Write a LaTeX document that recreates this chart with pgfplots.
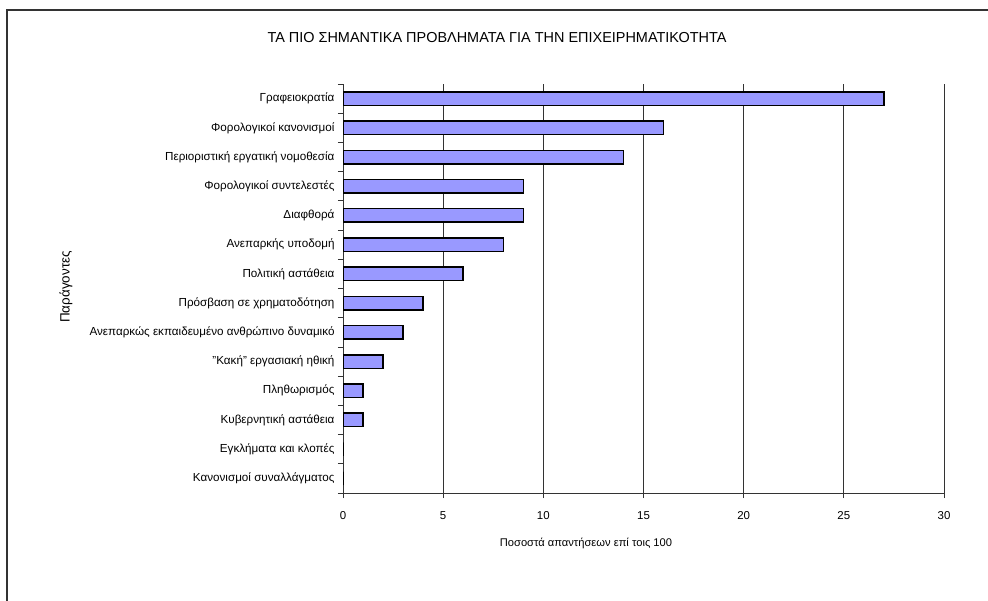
\documentclass[border=0pt]{standalone}
\usepackage{pgfplots}
\pgfplotsset{compat=1.18}
\usepackage{fontspec}
\setmainfont{Liberation Sans}
\definecolor{barfill}{HTML}{9999FF}
\definecolor{frame}{HTML}{333333}

\begin{document}
\begin{tikzpicture}
\useasboundingbox (0,0) rectangle (988bp,601bp);
\fill[white] (0,0) rectangle (988bp,601bp);
% outer chart frame (right and bottom sides fall outside the picture)
\draw[line width=1.6bp, frame] (7bp,0) -- (7bp,591bp) -- (988bp,591bp);

\node[font=\fontsize{14.5}{16}\selectfont] at (497bp,563bp)
  {ΤΑ ΠΙΟ ΣΗΜΑΝΤΙΚΑ ΠΡΟΒΛΗΜΑΤΑ ΓΙΑ ΤΗΝ ΕΠΙΧΕΙΡΗΜΑΤΙΚΟΤΗΤΑ};
\node[font=\fontsize{11.2}{13}\selectfont] at (586bp,58bp)
  {Ποσοστά απαντήσεων επί τοις 100};
\node[font=\fontsize{13.5}{15}\selectfont, rotate=90] at (66bp,314bp)
  {Παράγοντες};

\begin{axis}[
  at={(343bp,108bp)}, anchor=south west,
  scale only axis, width=601bp, height=409bp,
  xmin=0, xmax=30, ymin=-0.5, ymax=13.5,
  y dir=reverse,
  axis x line*=bottom, axis y line*=left,
  axis line style={frame, line width=0.8bp},
  xtick={0,5,...,30},
  ytick={-0.5,0.5,...,13.5},
  y tick label as interval,
  yticklabels={Γραφειοκρατία, Φορολογικοί κανονισμοί,
    Περιοριστική εργατική νομοθεσία, Φορολογικοί συντελεστές,
    Διαφθορά, Ανεπαρκής υποδομή, Πολιτική αστάθεια,
    Πρόσβαση σε χρηματοδότηση,
    Ανεπαρκώς εκπαιδευμένο ανθρώπινο δυναμικό,
    "Κακή" εργασιακή ηθική, Πληθωρισμός, Κυβερνητική αστάθεια,
    Εγκλήματα και κλοπές, Κανονισμοί συναλλάγματος},
  tick align=outside,
  major tick length=5bp,
  tick style={frame, line width=0.8bp},
  xmajorgrids,
  grid style={frame, line width=0.7bp},
  yticklabel style={font=\fontsize{11.7}{14}\selectfont},
  xticklabel style={font=\fontsize{11.5}{13}\selectfont, yshift=-10bp},
  /pgf/number format/assume math mode=true,
]
\addplot[xbar, bar width=0.46, fill=barfill, draw=black, line width=1.5bp]
  coordinates {
    (27,0) (16,1) (14,2) (9,3) (9,4) (8,5) (6,6)
    (4,7) (3,8) (2,9) (1,10) (1,11) (0,12) (0,13)
  };
\end{axis}
\end{tikzpicture}
\end{document}
